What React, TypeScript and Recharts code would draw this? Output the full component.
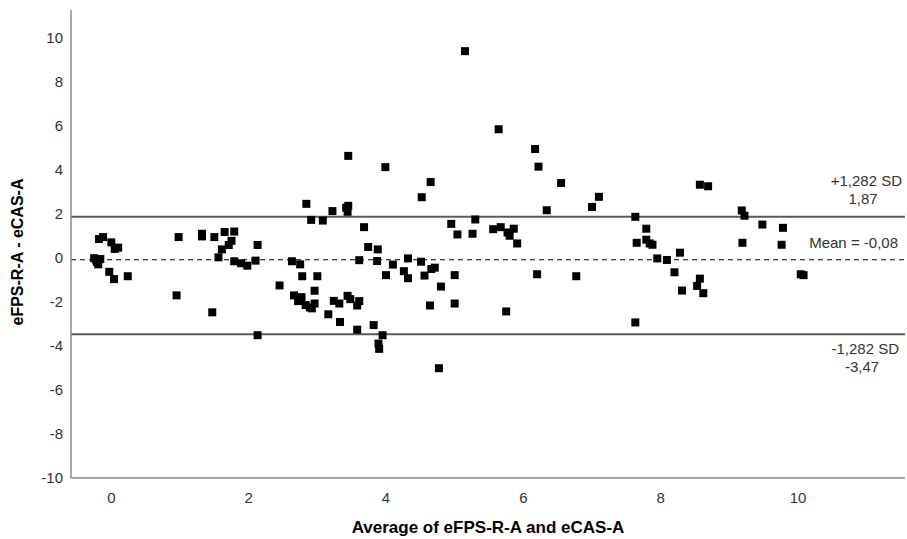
import {
  ScatterChart,
  Scatter,
  XAxis,
  YAxis,
  ZAxis,
  ReferenceLine,
} from "recharts";

// Bland-Altman: mean of the two methods vs. their difference
const avgValues = [
  -0.18, -0.12, 0.0, 0.05, 0.1, -0.25, -0.22, -0.19, -0.16, -0.21, -0.03, 0.04, 0.24,
  0.98, 0.95, 1.32, 1.32, 1.5, 1.47, 1.65, 1.79, 1.75, 1.71, 1.61, 1.56, 1.79, 1.89,
  1.98, 2.1, 2.13, 2.13, 2.84, 2.91, 3.08, 3.22, 3.42, 3.45, 3.44, 3.68, 3.74, 3.88,
  2.63, 2.75, 2.78, 3.0, 2.45, 2.66, 2.77, 2.72, 2.83, 2.89, 2.92, 2.96, 2.96, 3.16,
  3.24, 3.32, 3.44, 3.48, 3.58, 3.61, 3.33, 3.58, 3.82, 3.95, 3.89, 3.9, 3.61, 3.87,
  4.0, 4.1, 3.45, 3.99, 4.65, 4.52, 4.95, 5.04, 5.26, 5.3, 5.56, 5.67, 5.77, 5.8,
  5.86, 5.91, 4.32, 4.26, 4.32, 4.51, 4.56, 4.66, 4.71, 4.8, 5.0, 4.64, 5.0, 5.75,
  4.77, 6.2, 5.15, 5.64, 6.17, 6.22, 6.55, 7.1, 7.0, 6.34, 7.63, 7.79, 7.65, 7.79,
  7.84, 7.88, 7.95, 8.09, 8.28, 8.2, 8.31, 6.77, 7.63, 8.57, 8.69, 9.18, 9.22, 9.48,
  9.78, 9.19, 9.76, 8.57, 8.53, 8.62, 10.04, 10.08,
];

const diffValues = [
  0.86, 0.95, 0.71, 0.41, 0.47, -0.01, -0.09, -0.29, -0.05, -0.18, -0.63, -0.96, -0.83,
  0.95, -1.7, 1.1, 0.98, 0.95, -2.47, 1.18, 1.2, 0.78, 0.59, 0.39, 0.03, -0.15, -0.24,
  -0.35, -0.12, 0.59, -3.51, 2.46, 1.73, 1.7, 2.13, 2.28, 2.37, 2.1, 1.4, 0.5, 0.39,
  -0.15, -0.29, -0.83, -0.83, -1.25, -1.7, -1.78, -1.96, -2.14, -2.25, -2.29, -2.07, -1.49, -2.56,
  -1.95, -2.07, -1.72, -1.87, -2.16, -1.96, -2.91, -3.26, -3.05, -3.51, -3.89, -4.13, -0.1, -0.14,
  -0.78, -0.3, 4.64, 4.13, 3.45, 2.76, 1.55, 1.07, 1.1, 1.75, 1.31, 1.4, 1.16, 1.01,
  1.33, 0.66, -0.02, -0.6, -0.92, -0.17, -0.8, -0.5, -0.44, -1.3, -0.78, -2.16, -2.07, -2.43,
  -5.01, -0.74, 9.4, 5.85, 4.95, 4.15, 3.41, 2.78, 2.32, 2.17, 1.87, 1.33, 0.69, 0.83,
  0.66, 0.6, -0.02, -0.09, 0.24, -0.65, -1.48, -0.83, -2.93, 3.33, 3.26, 2.16, 1.92, 1.52,
  1.37, 0.69, 0.6, -0.94, -1.27, -1.6, -0.74, -0.78,
];

const xTicks = [0, 2, 4, 6, 8, 10];
const yTicks = [-10, -8, -6, -4, -2, 0, 2, 4, 6, 8, 10];

const meanDiff = -0.08;
const upperLimit = 1.87;
const lowerLimit = -3.47;

const points = avgValues.map((x, i) => ({ x, y: diffValues[i] }));

const FONT = "'Liberation Sans', Arial, sans-serif";
const TEXT = "#333333";

type VB = { x: number; y: number; width: number; height: number };

function UpperLabel({ viewBox }: { viewBox?: VB }) {
  if (!viewBox) return null;
  const right = viewBox.x + viewBox.width;
  return (
    <g fontFamily={FONT} fontSize={15} fill={TEXT}>
      <text x={right - 3} y={viewBox.y - 31} textAnchor="end">+1,282 SD</text>
      <text x={right - 42} y={viewBox.y - 13} textAnchor="middle">1,87</text>
    </g>
  );
}

function MeanLabel({ viewBox }: { viewBox?: VB }) {
  if (!viewBox) return null;
  const right = viewBox.x + viewBox.width;
  return (
    <text x={right - 7} y={viewBox.y - 12} textAnchor="end" fontFamily={FONT} fontSize={15} fill={TEXT}>
      Mean = -0,08
    </text>
  );
}

function LowerLabel({ viewBox }: { viewBox?: VB }) {
  if (!viewBox) return null;
  const right = viewBox.x + viewBox.width;
  return (
    <g fontFamily={FONT} fontSize={15} fill={TEXT}>
      <text x={right - 6} y={viewBox.y + 20} textAnchor="end">-1,282 SD</text>
      <text x={right - 43} y={viewBox.y + 38} textAnchor="middle">-3,47</text>
    </g>
  );
}

function YTitle({ viewBox }: { viewBox?: VB }) {
  if (!viewBox) return null;
  const cx = 17;
  const cy = 252;
  return (
    <text
      x={cx}
      y={cy}
      transform={`rotate(-90, ${cx}, ${cy})`}
      textAnchor="middle"
      dominantBaseline="central"
      fontFamily={FONT}
      fontSize={16}
      fontWeight="bold"
      fill="#000"
    >
      eFPS-R-A - eCAS-A
    </text>
  );
}

export default function App() {
  const tick = { fill: TEXT, fontSize: 15, fontFamily: FONT };
  return (
    <div style={{ position: "absolute", left: 0, top: 0, background: "#fff" }}>
      <ScatterChart width={907} height={539} margin={{ top: 10, right: 2, bottom: 0, left: 0 }}>
        <XAxis
          type="number"
          dataKey="x"
          domain={[-0.587, 11.557]}
          ticks={xTicks}
          allowDataOverflow
          height={61}
          tick={tick}
          tickLine={false}
          tickMargin={8}
          axisLine={{ stroke: "#8a8a8a", strokeWidth: 1.5 }}
          label={{
            value: "Average of eFPS-R-A and eCAS-A",
            position: "insideBottom",
            offset: 6,
            fill: "#000",
            fontSize: 17,
            fontWeight: "bold",
            fontFamily: FONT,
          }}
        />
        <YAxis
          type="number"
          dataKey="y"
          domain={[-10, 11.27]}
          ticks={yTicks}
          allowDataOverflow
          width={71}
          tick={tick}
          tickLine={false}
          axisLine={{ stroke: "#8a8a8a", strokeWidth: 1.5 }}
          label={<YTitle />}
        />
        <ZAxis range={[45, 45]} />
        <ReferenceLine y={upperLimit} stroke="#5a5a5a" strokeWidth={2} label={<UpperLabel />} />
        <ReferenceLine y={meanDiff} stroke="#000" strokeWidth={1.2} strokeDasharray="5 4" label={<MeanLabel />} />
        <ReferenceLine y={lowerLimit} stroke="#5a5a5a" strokeWidth={2} label={<LowerLabel />} />
        <Scatter data={points} shape="square" fill="#000" isAnimationActive={false} />
      </ScatterChart>
    </div>
  );
}
